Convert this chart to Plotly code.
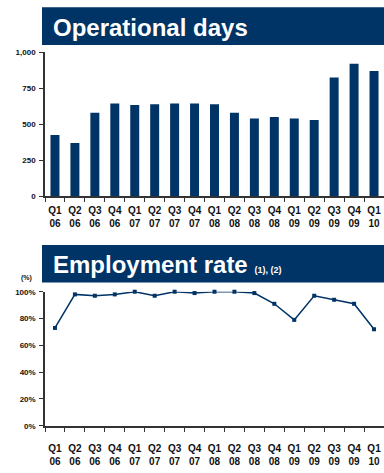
import plotly.graph_objects as go

quarters = ["Q1<br>06", "Q2<br>06", "Q3<br>06", "Q4<br>06",
            "Q1<br>07", "Q2<br>07", "Q3<br>07", "Q4<br>07",
            "Q1<br>08", "Q2<br>08", "Q3<br>08", "Q4<br>08",
            "Q1<br>09", "Q2<br>09", "Q3<br>09", "Q4<br>09",
            "Q1<br>10"]
operational_days = [425, 370, 580, 645, 635, 640, 645, 645, 640, 580,
                     540, 550, 540, 530, 825, 920, 870]
employment_rate = [73, 98, 97, 98, 100, 97, 100, 99, 100, 100,
                   99, 91, 79, 97, 94, 91, 72]
days_ticks = [0, 250, 500, 750, 1000]
days_ticktext = ["0", "250", "500", "750", "1,000"]
rate_ticks = [0, 20, 40, 60, 80, 100]
rate_ticktext = ["0%", "20%", "40%", "60%", "80%", "100%"]

W, H = 384, 473
NAVY = "#003366"
FONT = "Liberation Sans, Arial, sans-serif"


def py(px):
    return 1 - px / H


fig = go.Figure()
fig.add_trace(go.Bar(x=quarters, y=operational_days, marker_color=NAVY,
                     marker_line_width=0, xaxis="x", yaxis="y",
                     showlegend=False, hoverinfo="y"))
fig.add_trace(go.Scatter(x=quarters, y=employment_rate, mode="lines+markers",
                         line=dict(color=NAVY, width=1.5),
                         marker=dict(color=NAVY, size=4, symbol="square"),
                         xaxis="x2", yaxis="y2", showlegend=False,
                         cliponaxis=False))

xdom = [45 / W, 1.0]
xrange = [-0.5, len(quarters) - 0.5]
axis_common = dict(showline=True, linecolor="#333333", linewidth=1.5,
                   ticks="outside", ticklen=4, tickcolor="#333333",
                   showgrid=False, zeroline=False)
tickfont_x = dict(family=FONT, size=10, color="#111111", weight="bold")
tickfont_y = dict(family=FONT, size=8, color="#111111", weight="bold")

fig.update_layout(
    width=W, height=H,
    margin=dict(l=0, r=0, t=0, b=0),
    plot_bgcolor="white", paper_bgcolor="white",
    bargap=0.55,
    xaxis=dict(domain=xdom, anchor="y", type="category", tickangle=0,
               range=xrange, ticklabelstandoff=4,
               tickson="boundaries", tickfont=tickfont_x, **axis_common),
    yaxis=dict(domain=[py(196), py(49.3)], anchor="x", range=[0, 1000],
               tickvals=days_ticks, ticktext=days_ticktext,
               ticklabelstandoff=2,
               tickfont=tickfont_y, **axis_common),
    xaxis2=dict(domain=xdom, anchor="y2", type="category", tickangle=0,
                range=xrange, ticklabelstandoff=12,
                tickson="boundaries", tickfont=tickfont_x, **axis_common),
    yaxis2=dict(domain=[py(430), py(293.3)], anchor="x2", range=[0, 100],
                tickvals=rate_ticks, ticktext=rate_ticktext,
                ticklabelstandoff=2,
                tickfont=tickfont_y, **axis_common),
    shapes=[
        dict(type="rect", xref="paper", yref="paper",
             x0=42 / W, x1=1.0, y0=py(41.7), y1=py(3.3),
             fillcolor=NAVY, line_width=0, layer="below"),
        dict(type="rect", xref="paper", yref="paper",
             x0=42 / W, x1=1.0, y0=py(284), y1=py(245.7),
             fillcolor=NAVY, line_width=0, layer="below"),
    ],
    annotations=[
        dict(text="<b>Operational days</b>", xref="paper", yref="paper",
             x=51 / W, y=py(23.5), xanchor="left", yanchor="middle",
             showarrow=False, font=dict(family=FONT, size=24, color="white")),
        dict(text="<b>Employment rate</b> <b><span style='font-size:9px'>(1), (2)</span></b>",
             xref="paper", yref="paper",
             x=51 / W, y=py(266), xanchor="left", yanchor="middle",
             showarrow=False, font=dict(family=FONT, size=24, color="white")),
        dict(text="<b>(%)</b>", xref="paper", yref="paper",
             x=26 / W, y=py(279.5), xanchor="center", yanchor="middle",
             showarrow=False, font=dict(family=FONT, size=7, color="#111111")),
    ],
)

fig.write_html("out.html")
